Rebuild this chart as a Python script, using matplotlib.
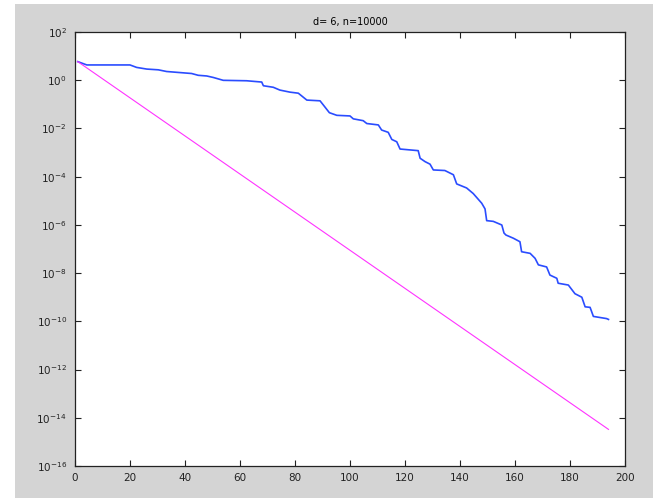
import numpy as np
import matplotlib
matplotlib.use("Agg")
import matplotlib.pyplot as plt
from matplotlib.patches import Rectangle

# blue curve, breakpoints
blue_x = [1, 4.3, 20, 22.4, 26.1, 30.3, 33.3, 37.6, 42.4, 44.8, 47.9, 50.3, 53.9,
          62.4, 67.9, 68.5, 72.1, 74.5, 78.2, 81.2, 84.3, 89.1, 90.3, 92.5, 95.2,
          100, 101.2, 104.8, 106.1, 110.3, 111.5, 113.9, 115.2, 117.0, 118.2, 124.8,
          125.5, 127.3, 129.1, 130.3, 134.5, 137.6, 138.8, 142.4, 144.8, 147.9,
          149.1, 149.7, 152.1, 155.2, 156.0, 156.7, 159.4, 161.8, 162.4, 165.5,
          167.3, 168.5, 171.5, 172.7, 175.2, 175.7, 179.4, 181.8, 184.3, 185.5,
          187.3, 188.5, 193.3, 194]
blue_y = [5.9, 4.3, 4.3, 3.4, 2.9, 2.7, 2.3, 2.1, 1.9, 1.6, 1.5, 1.3, 0.99,
          0.95, 0.84, 0.59, 0.51, 0.39, 0.32, 0.29, 0.15, 0.14, 9.4e-2, 4.5e-2, 3.5e-2,
          3.3e-2, 2.5e-2, 2.1e-2, 1.6e-2, 1.4e-2, 8.6e-3, 6.9e-3, 3.5e-3, 2.8e-3, 1.4e-3, 1.2e-3,
          5.8e-4, 4.2e-4, 3.3e-4, 1.9e-4, 1.8e-4, 1.2e-4, 5.0e-5, 3.4e-5, 2.0e-5, 7.9e-6,
          4.6e-6, 1.5e-6, 1.4e-6, 9.9e-7, 4.6e-7, 3.8e-7, 2.8e-7, 2.0e-7, 7.7e-8, 6.6e-8,
          4.1e-8, 2.2e-8, 1.8e-8, 8.3e-9, 6.1e-9, 3.8e-9, 3.2e-9, 1.4e-9, 1.0e-9, 4.0e-10,
          3.8e-10, 1.6e-10, 1.3e-10, 1.2e-10]

# magenta straight line (end points)
mag_x = [1, 194]
mag_y = [5.9, 3.3e-15]

title = "d= 6, n=10000"
xticks = [0, 20, 40, 60, 80, 100, 120, 140, 160, 180, 200]
yexp = [2, 0, -2, -4, -6, -8, -10, -12, -14, -16]

W, H = 653, 498
fig = plt.figure(figsize=(W / 100, H / 100), dpi=100, facecolor="white")
fig.patches.append(Rectangle((15 / W, 0), 1, (H - 4) / H, transform=fig.transFigure,
                             facecolor="#d4d4d4", edgecolor="none", zorder=-10))

ax = fig.add_axes([75 / W, (H - 466) / H, 550 / W, 434 / H])
ax.plot(blue_x, blue_y, color="#2a4cff", lw=1.2)
ax.plot(mag_x, mag_y, color="#ff33ff", lw=0.8)

ax.set_yscale("log")
ax.set_xlim(0, 200)
ax.set_ylim(1e-16, 1e2)
ax.set_xticks(xticks)
ax.set_xticklabels([str(v) for v in xticks])
ax.set_yticks([10.0 ** e for e in yexp])
ax.set_yticklabels([r"$10^{%d}$" % e for e in yexp])
ax.yaxis.set_minor_locator(matplotlib.ticker.NullLocator())
ax.tick_params(direction="in", length=4, width=0.8, top=True, right=True,
               labelsize=7.5, colors="#222222")
ax.tick_params(axis="x", pad=5)
ax.tick_params(axis="y", pad=6)
for s in ax.spines.values():
    s.set_linewidth(0.9)
    s.set_color("#222222")
ax.set_title(title, fontsize=7, pad=5)

fig.savefig("out.png", dpi=100, facecolor=fig.get_facecolor())
